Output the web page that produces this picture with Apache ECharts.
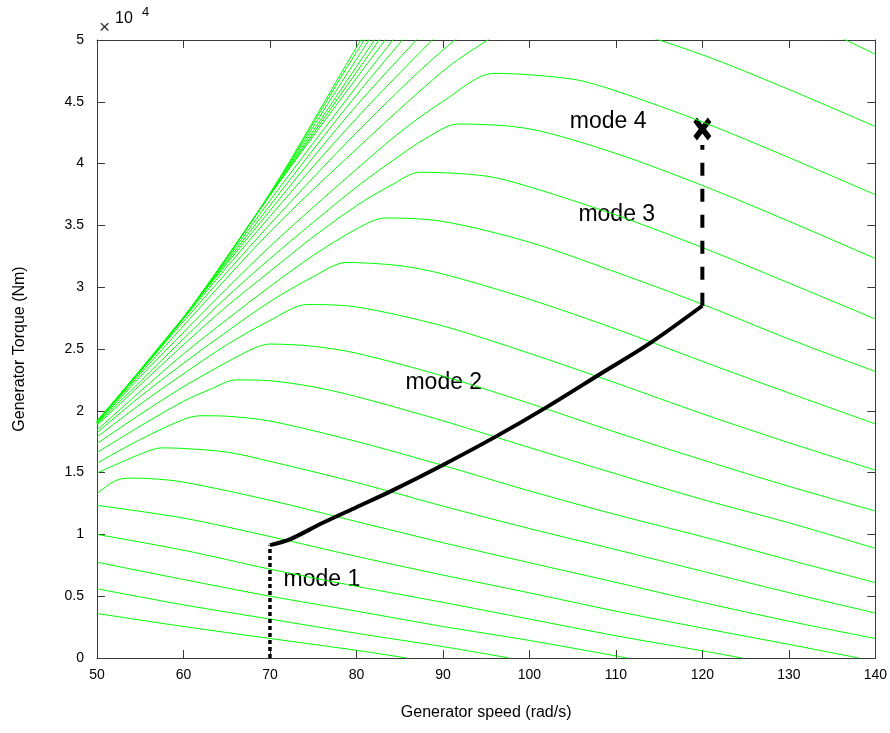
<!DOCTYPE html>
<html>
<head>
<meta charset="utf-8">
<title>Generator torque vs speed</title>
<script src="https://cdn.jsdelivr.net/npm/echarts/dist/echarts.min.js"></script>
<style>
	body { margin: 0; background: #fff; }
	#main { width: 890px; height: 733px; }
</style>
</head>
<body>
<div id="main"></div>
<script>
// torque curves, one per wind speed, [speed rad/s, torque x10^4 Nm]
const c01 = [[50, 0.36], [60, 0.255], [70, 0.158], [80, 0.062], [85.8, 0]];
const c02 = [[50, 0.56], [60, 0.43], [70, 0.315], [80, 0.2], [90, 0.092], [97.7, 0]];
const c03 = [[50, 0.775], [60, 0.635], [70, 0.5], [80, 0.379], [90, 0.255], [100, 0.142], [111.3, 0]];
const c04 = [[50, 1.0], [60, 0.872], [70, 0.719], [80, 0.58], [90, 0.45], [100, 0.315], [110, 0.18], [120, 0.058], [124.6, 0]];
const c05 = [[50, 1.235], [60, 1.132], [70, 0.983], [80, 0.822], [90, 0.671], [100, 0.527], [110, 0.379], [120, 0.242], [130, 0.11], [138.1, 0]];
const c06 = [[50, 1.33], [52, 1.43], [53.5, 1.455], [56, 1.452], [60, 1.423], [70, 1.276], [80, 1.104], [90, 0.933], [100, 0.771], [110, 0.612], [120, 0.45], [130, 0.298], [140, 0.157]];
const c07 = [[50, 1.496], [55, 1.649], [57.5, 1.7], [60, 1.695], [65, 1.666], [70, 1.591], [80, 1.42], [90, 1.229], [100, 1.047], [110, 0.877], [120, 0.702], [130, 0.529], [140, 0.364]];
const c08 = [[50, 1.576], [55, 1.768], [60, 1.93], [62, 1.96], [65, 1.956], [70, 1.917], [80, 1.752], [90, 1.558], [100, 1.352], [110, 1.16], [120, 0.982], [130, 0.794], [140, 0.61]];
const c09 = [[50, 1.663], [55, 1.876], [60, 2.077], [63, 2.171], [66.1, 2.25], [70, 2.243], [75, 2.194], [80, 2.115], [90, 1.919], [100, 1.703], [110, 1.49], [120, 1.283], [130, 1.094], [140, 0.887]];
const c10 = [[50, 1.735], [55, 1.971], [60, 2.195], [65, 2.393], [68.3, 2.51], [70, 2.54], [75, 2.522], [80, 2.466], [90, 2.281], [100, 2.06], [110, 1.826], [120, 1.603], [130, 1.389], [140, 1.189]];
const c11 = [[50, 1.788], [55, 2.053], [60, 2.299], [65, 2.534], [70, 2.731], [74.3, 2.86], [80, 2.84], [90, 2.686], [100, 2.465], [110, 2.225], [120, 1.976], [130, 1.742], [140, 1.52]];
const c12 = [[50, 1.824], [55, 2.115], [60, 2.384], [65, 2.64], [70, 2.883], [75, 3.085], [78.8, 3.2], [85, 3.174], [90, 3.107], [100, 2.902], [110, 2.662], [120, 2.4], [130, 2.144], [140, 1.894]];
const c13 = [[50, 1.844], [55, 2.157], [60, 2.46], [65, 2.738], [70, 3.005], [75, 3.257], [80, 3.471], [83.3, 3.56], [90, 3.532], [100, 3.364], [110, 3.122], [120, 2.862], [130, 2.581], [140, 2.318]];
const c14 = [[50, 1.882], [55, 2.209], [60, 2.535], [65, 2.845], [70, 3.128], [75, 3.407], [80, 3.659], [84, 3.825], [87.3, 3.93], [95, 3.899], [100, 3.812], [110, 3.584], [120, 3.321], [130, 3.034], [140, 2.743]];
const c15 = [[50, 1.892], [55, 2.238], [60, 2.583], [65, 2.92], [70, 3.231], [75, 3.525], [80, 3.81], [85, 4.065], [88, 4.203], [91.7, 4.32], [100, 4.281], [110, 4.082], [120, 3.823], [130, 3.534], [140, 3.232]];
const c16 = [[50, 1.897], [55, 2.275], [60, 2.635], [65, 2.989], [70, 3.33], [75, 3.647], [80, 3.954], [85, 4.252], [90, 4.503], [95.9, 4.73], [105, 4.683], [110, 4.588], [120, 4.337], [130, 4.049], [140, 3.748]];
const c17 = [[50, 1.905], [60, 2.688], [70, 3.448], [80, 4.118], [90, 4.748], [95, 4.992], [100.2, 5.2], [110, 5.1], [120, 4.88], [130, 4.6], [140, 4.3]];
const c18 = [[50, 1.907], [60, 2.723], [70, 3.509], [80, 4.251], [90, 4.919], [100, 5.45], [104.5, 5.66], [110, 5.65], [120, 5.49], [130, 5.213], [140, 4.885]];
const c19 = [[50, 1.91], [60, 2.745], [70, 3.573], [80, 4.366], [90, 5.084], [100, 5.735]];
const c20 = [[50, 1.909], [60, 2.758], [70, 3.62], [80, 4.469], [90, 5.231]];
const c21 = [[50, 1.91], [60, 2.753], [70, 3.661], [80, 4.555], [90, 5.384]];
const c22 = [[50, 1.912], [60, 2.749], [70, 3.702], [80, 4.623], [90, 5.514]];
const c23 = [[50, 1.909], [60, 2.749], [70, 3.745], [80, 4.691], [90, 5.621]];
const c24 = [[50, 1.912], [60, 2.749], [70, 3.744], [80, 4.74], [90, 5.735]];
const c25 = [[50, 1.908], [60, 2.754], [70, 3.751], [80, 4.785], [90, 5.819]];
const c26 = [[50, 1.912], [60, 2.753], [70, 3.754], [80, 4.845], [90, 5.896]];
const c27 = [[50, 1.915], [60, 2.756], [70, 3.756], [80, 4.9], [90, 5.958]];
const c28 = [[50, 1.919], [60, 2.755], [70, 3.76], [80, 4.94], [90, 6.06]];
const greenCurves = [c01, c02, c03, c04, c05, c06, c07, c08, c09, c10, c11, c12, c13, c14,
	c15, c16, c17, c18, c19, c20, c21, c22, c23, c24, c25, c26, c27, c28];

// operating path
const mode1Line = [[70, 0], [70, 0.913]];
const mode2Line = [[70, 0.913], [72.3, 0.96], [76, 1.09], [80, 1.22], [84, 1.35], [90, 1.562], [96, 1.787], [102, 2.03], [108, 2.29], [114, 2.55], [120, 2.85]];
const mode3Line = [[120, 2.85], [120, 4.15]];
const endPoint = [[120, 4.28]];

// text labels
const modeNames = ['mode 1', 'mode 2', 'mode 3', 'mode 4'];
const modeSpots = [[76, 0.637], [90.1, 2.224], [110.1, 3.59], [109.1, 4.34]];

// tick labels
const xTicks = { min: 50, max: 140, step: 10 };
const yTicks = { min: 0, max: 5, step: 0.5 };

let myChart = echarts.init(document.getElementById('main'));

const font = 'Liberation Sans, Arial, sans-serif';
const axisColor = '#3a3a3a';

function makeAxis(isX, pos, showLabel) {
	let t = isX ? xTicks : yTicks;
	return {
		type: 'value',
		position: pos,
		min: t.min,
		max: t.max,
		interval: t.step,
		axisLine: { show: true, onZero: false, lineStyle: { color: axisColor, width: 1 } },
		axisTick: { show: true, inside: true, length: 8, lineStyle: { color: axisColor } },
		axisLabel: {
			show: showLabel,
			color: '#000',
			fontFamily: font,
			fontSize: 14,
			margin: isX ? 10 : 13
		},
		splitLine: { show: false }
	};
}

let xBottom = makeAxis(true, 'bottom', true);
xBottom.name = 'Generator speed (rad/s)';
xBottom.nameLocation = 'middle';
xBottom.nameGap = 47;
xBottom.nameTextStyle = { color: '#000', fontFamily: font, fontSize: 16 };

let yLeft = makeAxis(false, 'left', true);
yLeft.name = 'Generator Torque (Nm)';
yLeft.nameLocation = 'middle';
yLeft.nameGap = 69;
yLeft.nameTextStyle = { color: '#000', fontFamily: font, fontSize: 16 };

let series = greenCurves.map(function (c) {
	return {
		type: 'line',
		data: c,
		symbol: 'none',
		smooth: 0.3,
		clip: true,
		silent: true,
		lineStyle: { color: '#00ff00', width: 1 }
	};
});

series.push({
	type: 'line', data: mode1Line, symbol: 'none', silent: true,
	lineStyle: { color: '#000', width: 3.5, type: [4, 3] }
});
series.push({
	type: 'line', data: mode2Line, symbol: 'none', smooth: 0.3, silent: true,
	lineStyle: { color: '#000', width: 4 }
});
series.push({
	type: 'line', data: mode3Line, symbol: 'none', silent: true,
	lineStyle: { color: '#000', width: 4, type: [13, 13] }
});
// the X at the end of mode 3
series.push({
	type: 'scatter', data: endPoint, silent: true,
	symbol: 'path://M0,2 L2,0 L5,3 L8,0 L10,2 L7,5 L10,8 L8,10 L5,7 L2,10 L0,8 L3,5 Z',
	symbolSize: [18, 23],
	itemStyle: { color: '#000', opacity: 1 }
});
series.push({
	type: 'scatter', silent: true, symbolSize: 0,
	itemStyle: { opacity: 1 },
	data: modeSpots.map(function (p, i) { return { value: p, name: modeNames[i] }; }),
	label: {
		show: true,
		position: 'inside',
		formatter: function (p) { return p.name; },
		color: '#000',
		opacity: 1,
		fontFamily: font,
		fontSize: 23
	}
});

myChart.setOption({
	animation: false,
	backgroundColor: '#fff',
	grid: { left: 97, right: 13, top: 40, bottom: 75 },
	xAxis: [xBottom, makeAxis(true, 'top', false)],
	yAxis: [yLeft, makeAxis(false, 'right', false)],
	graphic: [
		{ type: 'text', left: 99, top: 18, style: { text: '×', fontSize: 19, fontFamily: font, fill: '#333' } },
		{ type: 'text', left: 115, top: 11, style: { text: '10', fontSize: 16, fontFamily: font, fill: '#000' } },
		{ type: 'text', left: 142, top: 6, style: { text: '4', fontSize: 13, fontFamily: font, fill: '#000' } }
	],
	series: series
});
</script>
</body>
</html>
